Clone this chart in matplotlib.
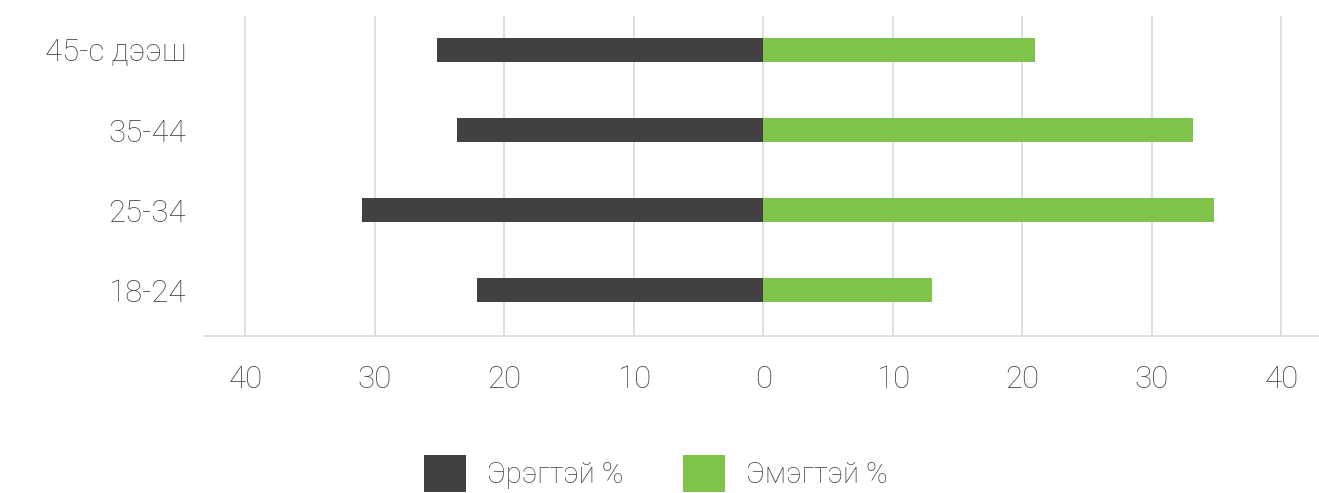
import numpy as np
import matplotlib
matplotlib.use("Agg")
import matplotlib.pyplot as plt

# Data
categories = ['18-24', '25-34', '35-44', '45-с дээш']
male = [22.1, 31.0, 23.7, 25.2]      # Эрэгтэй %
female = [13.0, 34.8, 33.2, 21.0]    # Эмэгтэй %
ticks = [-40, -30, -20, -10, 0, 10, 20, 30, 40]
tick_labels = ['40', '30', '20', '10', '0', '10', '20', '30', '40']

plt.rcParams['font.family'] = ['Roboto', 'DejaVu Sans']
plt.rcParams['font.weight'] = 'light'

dark = '#414042'
green = '#80c34a'
txt = '#454545'

fig = plt.figure(figsize=(13.19, 4.93), dpi=100)
ax = fig.add_axes([204 / 1319, 157 / 493, (1319 - 204) / 1319, 320 / 493])

y = np.arange(len(categories))
ax.barh(y, [-v for v in male], height=0.3, color=dark, label='Эрэгтэй %', zorder=3)
ax.barh(y, female, height=0.3, color=green, label='Эмэгтэй %', zorder=3)

ax.set_xlim(-43.2, 42.9)
ax.set_ylim(-0.575, 3.425)
ax.set_xticks(ticks)
ax.set_xticklabels(tick_labels)
ax.set_yticks(y)
ax.set_yticklabels(categories)
ax.tick_params(axis='x', length=0, pad=21, labelsize=22.5, labelcolor=txt)
ax.tick_params(axis='y', length=0, pad=13, labelsize=22.5, labelcolor=txt)

ax.grid(axis='x', color='#d6dada', linewidth=1.2, zorder=0)
for s in ['top', 'right', 'left']:
    ax.spines[s].set_visible(False)
ax.spines['bottom'].set_color('#d6dada')
ax.spines['bottom'].set_linewidth(1.2)

fig.legend(loc='center', bbox_to_anchor=(0.497, 0.04), ncol=2, frameon=False,
           fontsize=21, handlelength=1.46, handleheight=1.6, handletextpad=0.7,
           columnspacing=2.05, labelcolor=txt)

fig.savefig('out.png', dpi=100)
